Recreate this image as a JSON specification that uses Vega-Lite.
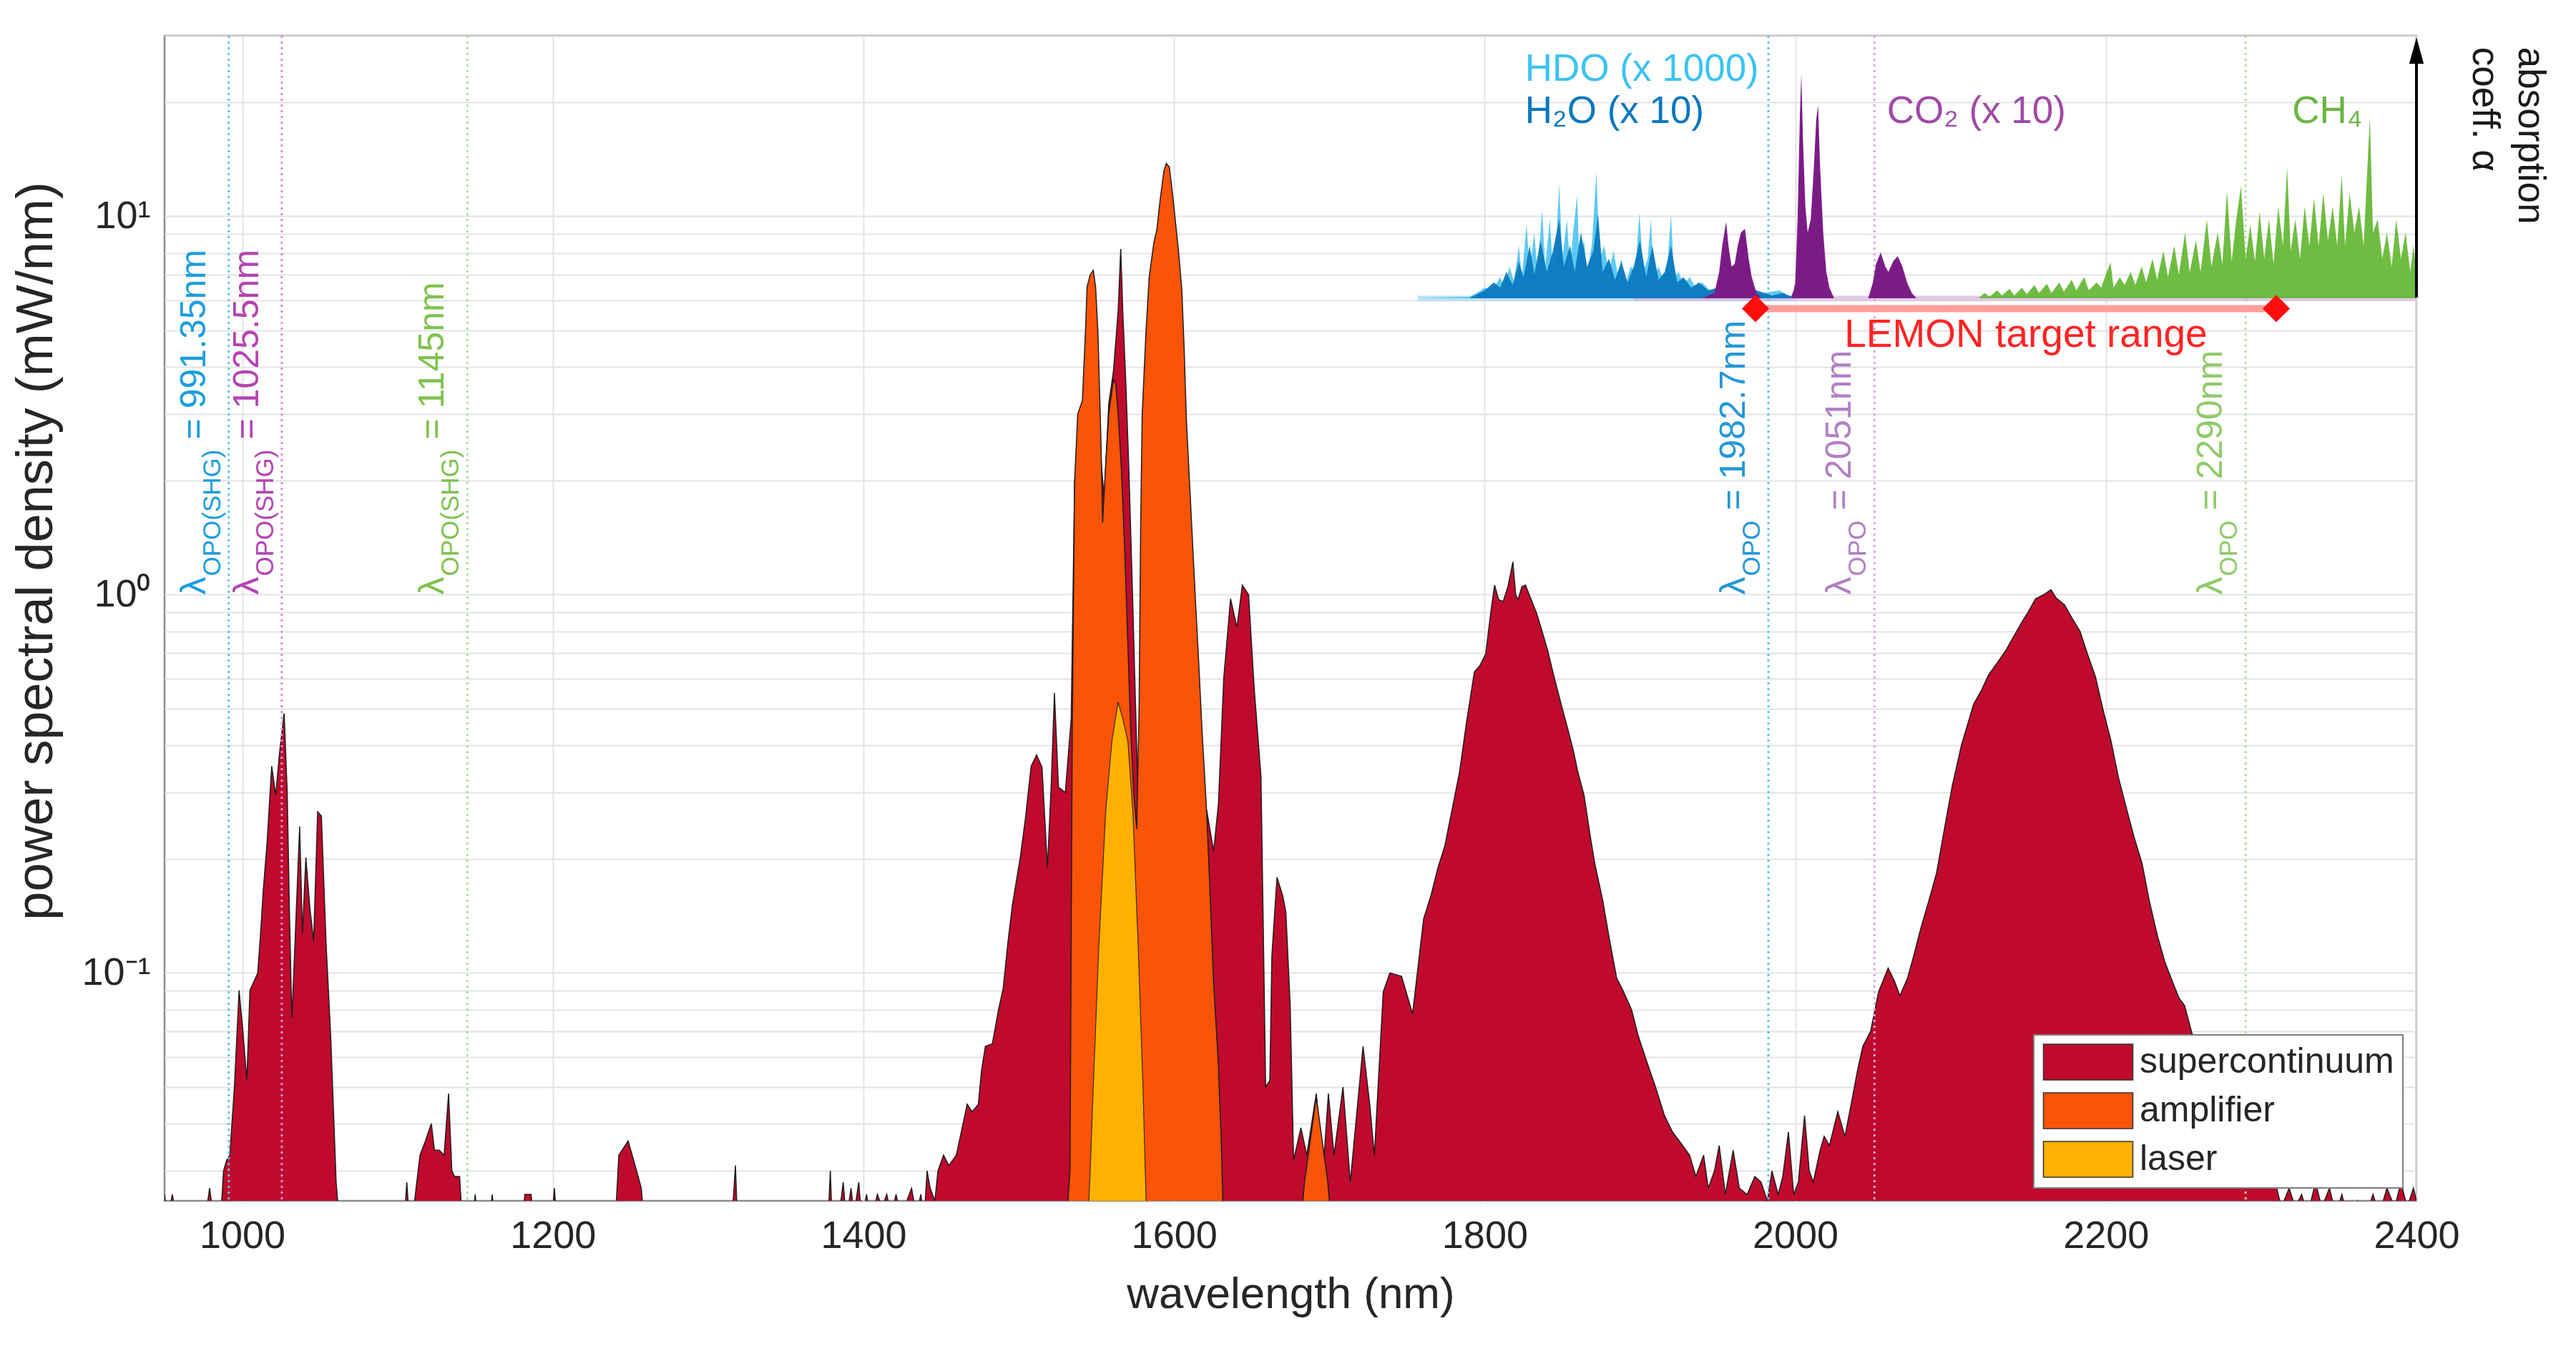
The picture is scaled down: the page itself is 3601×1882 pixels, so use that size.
{
  "$schema": "https://vega.github.io/schema/vega-lite/v6.json",
  "width": 3148,
  "height": 1629,
  "autosize": {"type": "none"},
  "padding": {"left": 230, "top": 50, "right": 223, "bottom": 203},
  "background": "white",
  "config": {
    "font": "Liberation Sans",
    "view": {"stroke": "#8c8c8c", "strokeWidth": 2.5},
    "axis": {"labelFont": "Liberation Sans", "titleFont": "Liberation Sans", "labelColor": "#262626", "titleColor": "#262626", "titleFontWeight": "normal", "domain": false, "ticks": false, "grid": true, "gridColor": "#e3e3e3", "gridWidth": 2},
    "axisX": {"labelFontSize": 54, "titleFontSize": 62, "labelPadding": 22, "titlePadding": 24, "labelFlush": false},
    "axisY": {"labelFontSize": 54, "titleFontSize": 72, "labelPadding": 20, "titlePadding": 26},
    "legend": {"labelFont": "Liberation Sans", "labelFontSize": 50, "labelColor": "#262626", "labelLimit": 1000, "fillColor": "white", "strokeColor": "#7f7f7f", "strokeWidth": 2, "padding": 12, "rowPadding": 12, "symbolOffset": 38, "labelOffset": 46, "symbolStrokeColor": "#333333", "symbolStrokeWidth": 1.5, "symbolOpacity": 1}
  },
  "datasets": {
    "sc": [
      {"wl":950,"p":0.026},{"wl":952,"p":0.022},{"wl":955,"p":0.026},{"wl":958,"p":0.022},{"wl":961,"p":0.025},{"wl":964,"p":0.021},{"wl":970,"p":0.021},{"wl":976,"p":0.022},{"wl":979,"p":0.027},{"wl":982,"p":0.022},{"wl":986,"p":0.022},{"wl":988,"p":0.03},{"wl":990,"p":0.032},{"wl":992,"p":0.033},{"wl":995,"p":0.05},{"wl":998,"p":0.09},{"wl":1000.5,"p":0.07},{"wl":1003,"p":0.052},{"wl":1005,"p":0.09},{"wl":1010,"p":0.1},{"wl":1012,"p":0.13},{"wl":1013.6,"p":0.166},{"wl":1016,"p":0.22},{"wl":1019,"p":0.352},{"wl":1021.6,"p":0.295},{"wl":1024,"p":0.38},{"wl":1027,"p":0.486},{"wl":1029,"p":0.3},{"wl":1030.5,"p":0.14},{"wl":1032,"p":0.076},{"wl":1034,"p":0.12},{"wl":1037,"p":0.244},{"wl":1038.8,"p":0.127},{"wl":1041,"p":0.202},{"wl":1043.5,"p":0.15},{"wl":1046,"p":0.121},{"wl":1048.6,"p":0.267},{"wl":1051,"p":0.26},{"wl":1054,"p":0.12},{"wl":1057,"p":0.068},{"wl":1060.5,"p":0.028},{"wl":1063,"p":0.021},
      {"wl":1075,"p":0.021},{"wl":1080,"p":0.024},{"wl":1083,"p":0.021},{"wl":1104,"p":0.021},{"wl":1106,"p":0.028},{"wl":1108,"p":0.021},{"wl":1111,"p":0.025},{"wl":1114.5,"p":0.033},{"wl":1118,"p":0.036},{"wl":1121.8,"p":0.04},{"wl":1123.8,"p":0.034},{"wl":1127,"p":0.034},{"wl":1130,"p":0.033},{"wl":1132.9,"p":0.048},{"wl":1135,"p":0.03},{"wl":1136.8,"p":0.029},{"wl":1140,"p":0.029},{"wl":1142,"p":0.021},{"wl":1148,"p":0.021},{"wl":1150,"p":0.026},{"wl":1152,"p":0.021},{"wl":1159,"p":0.021},{"wl":1161,"p":0.026},{"wl":1163,"p":0.021},{"wl":1180,"p":0.021},{"wl":1182,"p":0.026},{"wl":1186,"p":0.026},{"wl":1188,"p":0.021},{"wl":1199,"p":0.021},{"wl":1201,"p":0.027},{"wl":1203,"p":0.021},{"wl":1228,"p":0.021},{"wl":1229,"p":0.025},{"wl":1231,"p":0.021},{"wl":1240,"p":0.021},{"wl":1242.5,"p":0.033},{"wl":1248.5,"p":0.036},{"wl":1253,"p":0.031},{"wl":1257,"p":0.027},{"wl":1259,"p":0.021},{"wl":1273,"p":0.021},{"wl":1274,"p":0.025},{"wl":1276,"p":0.021},{"wl":1293,"p":0.021},{"wl":1294,"p":0.025},{"wl":1296,"p":0.021},{"wl":1315,"p":0.021},{"wl":1317.6,"p":0.031},{"wl":1319,"p":0.021},{"wl":1340,"p":0.021},{"wl":1341,"p":0.024},{"wl":1343,"p":0.021},{"wl":1365,"p":0.021},{"wl":1366,"p":0.025},{"wl":1368,"p":0.021},{"wl":1377,"p":0.021},{"wl":1378.7,"p":0.03},{"wl":1380,"p":0.021},{"wl":1385,"p":0.024},{"wl":1387,"p":0.028},{"wl":1389,"p":0.022},{"wl":1392,"p":0.027},{"wl":1394,"p":0.023},{"wl":1397,"p":0.028},{"wl":1399,"p":0.022},{"wl":1402,"p":0.026},{"wl":1405,"p":0.022},{"wl":1409,"p":0.026},{"wl":1412,"p":0.024},{"wl":1415,"p":0.026},{"wl":1418,"p":0.023},{"wl":1421,"p":0.026},{"wl":1425,"p":0.022},{"wl":1428,"p":0.025},{"wl":1431,"p":0.027},{"wl":1434,"p":0.023},{"wl":1437,"p":0.026},{"wl":1439,"p":0.022},{"wl":1441,"p":0.03},{"wl":1443,"p":0.027},{"wl":1446,"p":0.025},{"wl":1448,"p":0.03},{"wl":1451.6,"p":0.033},{"wl":1455,"p":0.031},{"wl":1459.8,"p":0.033},{"wl":1463,"p":0.038},{"wl":1466.8,"p":0.045},{"wl":1470,"p":0.043},{"wl":1474,"p":0.045},{"wl":1476,"p":0.055},{"wl":1478.5,"p":0.064},{"wl":1483,"p":0.065},{"wl":1487,"p":0.08},{"wl":1490,"p":0.091},{"wl":1493,"p":0.12},{"wl":1496,"p":0.152},{"wl":1501,"p":0.202},{"wl":1504.4,"p":0.258},{"wl":1508,"p":0.352},{"wl":1511.5,"p":0.377},{"wl":1515,"p":0.35},{"wl":1518.5,"p":0.19},{"wl":1521,"p":0.32},{"wl":1523,"p":0.55},{"wl":1525.6,"p":0.31},{"wl":1530,"p":0.3},{"wl":1533.8,"p":0.47},{"wl":1536,"p":2.0},{"wl":1540,"p":2.6},{"wl":1545,"p":4.0},{"wl":1550,"p":3.2},{"wl":1555,"p":1.8},{"wl":1558,"p":3.2},{"wl":1561,"p":3.9},{"wl":1564,"p":5.6},{"wl":1565.7,"p":8.2},{"wl":1567,"p":5.6},{"wl":1569,"p":3.6},{"wl":1571,"p":2.1},{"wl":1573,"p":1.1},{"wl":1575,"p":0.55},{"wl":1577,"p":0.28},{"wl":1580,"p":0.2},{"wl":1600,"p":0.2},{"wl":1618,"p":0.2},{"wl":1621,"p":0.27},{"wl":1625.5,"p":0.21},{"wl":1628.6,"p":0.28},{"wl":1632,"p":0.6},{"wl":1636.4,"p":0.975},{"wl":1640.5,"p":0.82},{"wl":1644,"p":1.06},{"wl":1648,"p":1.0},{"wl":1651.6,"p":0.567},{"wl":1656,"p":0.33},{"wl":1659,"p":0.05},{"wl":1661.7,"p":0.052},{"wl":1663,"p":0.111},{"wl":1666.3,"p":0.179},{"wl":1670,"p":0.16},{"wl":1672,"p":0.145},{"wl":1674.8,"p":0.082},{"wl":1677,"p":0.032},{"wl":1681.7,"p":0.039},{"wl":1685.5,"p":0.033},{"wl":1691.6,"p":0.048},{"wl":1696,"p":0.03},{"wl":1699.4,"p":0.048},{"wl":1703,"p":0.033},{"wl":1708.8,"p":0.05},{"wl":1713.5,"p":0.028},{"wl":1721.7,"p":0.064},{"wl":1726,"p":0.045},{"wl":1729,"p":0.033},{"wl":1734.7,"p":0.089},{"wl":1739,"p":0.1},{"wl":1746.5,"p":0.098},{"wl":1753.6,"p":0.078},{"wl":1760.7,"p":0.139},{"wl":1765.4,"p":0.16},{"wl":1770,"p":0.19},{"wl":1774.4,"p":0.217},{"wl":1779,"p":0.27},{"wl":1783.8,"p":0.339},{"wl":1788,"p":0.45},{"wl":1793.4,"p":0.625},{"wl":1797,"p":0.65},{"wl":1800.7,"p":0.697},{"wl":1804,"p":0.9},{"wl":1806.4,"p":1.06},{"wl":1809,"p":0.97},{"wl":1812,"p":0.96},{"wl":1815,"p":1.05},{"wl":1818.2,"p":1.22},{"wl":1820,"p":1.0},{"wl":1821.5,"p":0.97},{"wl":1824,"p":1.05},{"wl":1826.3,"p":1.06},{"wl":1830,"p":0.97},{"wl":1833.4,"p":0.895},{"wl":1837,"p":0.8},{"wl":1840.4,"p":0.717},{"wl":1845,"p":0.6},{"wl":1850,"p":0.5},{"wl":1853,"p":0.45},{"wl":1857,"p":0.389},{"wl":1860,"p":0.34},{"wl":1864,"p":0.295},{"wl":1868,"p":0.23},{"wl":1871,"p":0.194},{"wl":1876,"p":0.156},{"wl":1880,"p":0.125},{"wl":1885,"p":0.097},{"wl":1889,"p":0.09},{"wl":1894.6,"p":0.08},{"wl":1899,"p":0.068},{"wl":1904,"p":0.059},{"wl":1910,"p":0.05},{"wl":1915.8,"p":0.042},{"wl":1921,"p":0.038},{"wl":1927.5,"p":0.035},{"wl":1932,"p":0.033},{"wl":1936,"p":0.029},{"wl":1941,"p":0.033},{"wl":1944,"p":0.027},{"wl":1948,"p":0.03},{"wl":1951,"p":0.035},{"wl":1955,"p":0.026},{"wl":1960,"p":0.034},{"wl":1964,"p":0.027},{"wl":1969,"p":0.026},{"wl":1974,"p":0.029},{"wl":1978,"p":0.028},{"wl":1982,"p":0.025},{"wl":1985,"p":0.03},{"wl":1989,"p":0.026},{"wl":1992,"p":0.029},{"wl":1995.6,"p":0.038},{"wl":1999,"p":0.026},{"wl":2002,"p":0.028},{"wl":2006,"p":0.042},{"wl":2009,"p":0.03},{"wl":2011.6,"p":0.028},{"wl":2016,"p":0.034},{"wl":2018.6,"p":0.037},{"wl":2022,"p":0.035},{"wl":2027.4,"p":0.043},{"wl":2032,"p":0.037},{"wl":2036,"p":0.045},{"wl":2040,"p":0.055},{"wl":2043.5,"p":0.064},{"wl":2048.5,"p":0.07},{"wl":2053.6,"p":0.089},{"wl":2059.8,"p":0.103},{"wl":2064,"p":0.095},{"wl":2067.4,"p":0.087},{"wl":2072.3,"p":0.097},{"wl":2076,"p":0.11},{"wl":2081,"p":0.132},{"wl":2086,"p":0.155},{"wl":2091,"p":0.184},{"wl":2096,"p":0.24},{"wl":2101,"p":0.311},{"wl":2107,"p":0.4},{"wl":2110,"p":0.44},{"wl":2114.8,"p":0.513},{"wl":2120,"p":0.56},{"wl":2124.6,"p":0.615},{"wl":2130,"p":0.66},{"wl":2136,"p":0.717},{"wl":2141,"p":0.78},{"wl":2146,"p":0.847},{"wl":2150,"p":0.9},{"wl":2154.7,"p":0.975},{"wl":2160,"p":1.0},{"wl":2164.7,"p":1.03},{"wl":2168,"p":0.98},{"wl":2173.4,"p":0.94},{"wl":2178,"p":0.87},{"wl":2183.4,"p":0.8},{"wl":2188,"p":0.7},{"wl":2193.3,"p":0.607},{"wl":2198,"p":0.5},{"wl":2203.3,"p":0.411},{"wl":2208,"p":0.33},{"wl":2213.4,"p":0.271},{"wl":2218,"p":0.23},{"wl":2223.4,"p":0.194},{"wl":2228,"p":0.155},{"wl":2233.3,"p":0.125},{"wl":2238,"p":0.107},{"wl":2243.3,"p":0.094},{"wl":2247,"p":0.086},{"wl":2250.7,"p":0.082},{"wl":2256,"p":0.068},{"wl":2262,"p":0.058},{"wl":2268,"p":0.05},{"wl":2275,"p":0.044},{"wl":2282,"p":0.039},{"wl":2290,"p":0.034},{"wl":2298,"p":0.031},{"wl":2305,"p":0.029},{"wl":2310,"p":0.027},{"wl":2313,"p":0.024},{"wl":2318,"p":0.027},{"wl":2322,"p":0.024},{"wl":2326,"p":0.026},{"wl":2330,"p":0.023},{"wl":2335,"p":0.028},{"wl":2339,"p":0.024},{"wl":2344,"p":0.027},{"wl":2348,"p":0.023},{"wl":2352,"p":0.026},{"wl":2356,"p":0.022},{"wl":2362,"p":0.025},{"wl":2366,"p":0.022},{"wl":2372,"p":0.026},{"wl":2376,"p":0.023},{"wl":2381,"p":0.027},{"wl":2386,"p":0.024},{"wl":2390,"p":0.028},{"wl":2394,"p":0.024},{"wl":2398,"p":0.027},{"wl":2400,"p":0.025}
    ],
    "amp": [
      {"wl":1530,"p":0.02},{"wl":1533,"p":0.03},{"wl":1534.5,"p":0.45},{"wl":1536,"p":2.0},{"wl":1538,"p":3.0},{"wl":1541,"p":3.26},{"wl":1543,"p":5.0},{"wl":1544,"p":6.5},{"wl":1546,"p":7.0},{"wl":1548,"p":7.2},{"wl":1549.5,"p":6.5},{"wl":1551,"p":4.96},{"wl":1553,"p":2.5},{"wl":1554,"p":1.55},{"wl":1556,"p":2.2},{"wl":1558,"p":3.0},{"wl":1561,"p":3.7},{"wl":1562.5,"p":3.6},{"wl":1564,"p":3.0},{"wl":1566,"p":2.2},{"wl":1568,"p":1.4},{"wl":1570,"p":0.8},{"wl":1572,"p":0.45},{"wl":1574,"p":0.3},{"wl":1576,"p":0.24},{"wl":1577.5,"p":0.5},{"wl":1578.5,"p":1.5},{"wl":1579.5,"p":3.0},{"wl":1582,"p":5.0},{"wl":1584,"p":6.9},{"wl":1587,"p":8.5},{"wl":1589,"p":9.25},{"wl":1591,"p":11},{"wl":1593.5,"p":13.2},{"wl":1595,"p":13.8},{"wl":1597,"p":13.5},{"wl":1599,"p":11.5},{"wl":1601,"p":9.6},{"wl":1603,"p":8.0},{"wl":1605,"p":6.4},{"wl":1606.5,"p":4.5},{"wl":1608,"p":2.88},{"wl":1610.5,"p":1.8},{"wl":1613.3,"p":1.06},{"wl":1616,"p":0.65},{"wl":1618,"p":0.44},{"wl":1621,"p":0.267},{"wl":1623,"p":0.17},{"wl":1625.5,"p":0.094},{"wl":1628.6,"p":0.057},{"wl":1630.5,"p":0.035},{"wl":1632,"p":0.02},{"wl":1660,"p":0.02},{"wl":1681,"p":0.02},{"wl":1684,"p":0.028},{"wl":1691.6,"p":0.047},{"wl":1699,"p":0.028},{"wl":1702,"p":0.02}
    ],
    "laser": [
      {"wl":1544.6,"p":0.022},{"wl":1546,"p":0.03},{"wl":1548,"p":0.05},{"wl":1551.5,"p":0.116},{"wl":1556,"p":0.267},{"wl":1560,"p":0.41},{"wl":1564,"p":0.52},{"wl":1567,"p":0.47},{"wl":1570.3,"p":0.41},{"wl":1573.5,"p":0.267},{"wl":1577,"p":0.116},{"wl":1580,"p":0.05},{"wl":1582.4,"p":0.022}
    ],
    "vlines": [
      {"wl":991.35,"c":"SHG-H2O","k":"SHG","t":"= 991.35nm"},
      {"wl":1025.5,"c":"SHG-CO2","k":"SHG","t":"= 1025.5nm"},
      {"wl":1145,"c":"SHG-CH4","k":"SHG","t":"= 1145nm"},
      {"wl":1982.7,"c":"OPO-H2O","k":"OPO","t":"= 1982.7nm"},
      {"wl":2051,"c":"OPO-CO2","k":"OPO","t":"= 2051nm"},
      {"wl":2290,"c":"OPO-CH4","k":"OPO","t":"= 2290nm"}
    ],
    "lemon": [{"wl":1974.4,"v":5.7},{"wl":2309.7,"v":5.7}],
    "lemonText": [{"wl":2148.5,"v":4.86,"t":"LEMON target range"}],
    "gasLabels": [
      {"wl":1826,"v":24.4,"t":"HDO (x 1000)","g":"HDO"},
      {"wl":1826,"v":18.9,"t":"H₂O (x 10)","g":"H2O"},
      {"wl":2059,"v":18.9,"t":"CO₂ (x 10)","g":"CO2"},
      {"wl":2320,"v":18.9,"t":"CH₄","g":"CH4"}
    ],
    "absLabel": [{"wl":2466,"v":28,"t":"absorption\ncoeff. α"}],
    "arrow": [{"wl":2400,"v0":6.1,"v1":27}],
    "arrowHead": [{"wl":2400,"v":27.4}],
    "baselines": [{"wl":1757,"wl2":2000,"g":"H2O"},{"wl":1896,"wl2":2400,"g":"CO2"}],
    "abs": [
      {"g":"HDO","wl":1757,"a":0},{"g":"HDO","wl":1790,"a":0.005},{"g":"HDO","wl":1795,"a":0.02},{"g":"HDO","wl":1800,"a":0.04},{"g":"HDO","wl":1805,"a":0.03},{"g":"HDO","wl":1810,"a":0.08},{"g":"HDO","wl":1813,"a":0.04},{"g":"HDO","wl":1816,"a":0.12},{"g":"HDO","wl":1819,"a":0.06},{"g":"HDO","wl":1822,"a":0.2},{"g":"HDO","wl":1824,"a":0.08},{"g":"HDO","wl":1827,"a":0.283},{"g":"HDO","wl":1829,"a":0.1},{"g":"HDO","wl":1832,"a":0.25},{"g":"HDO","wl":1834,"a":0.1},{"g":"HDO","wl":1837,"a":0.338},{"g":"HDO","wl":1839,"a":0.12},{"g":"HDO","wl":1842,"a":0.3},{"g":"HDO","wl":1844,"a":0.1},{"g":"HDO","wl":1846,"a":0.2},{"g":"HDO","wl":1848,"a":0.437},{"g":"HDO","wl":1850,"a":0.15},{"g":"HDO","wl":1853,"a":0.3},{"g":"HDO","wl":1855,"a":0.12},{"g":"HDO","wl":1857,"a":0.25},{"g":"HDO","wl":1859.5,"a":0.392},{"g":"HDO","wl":1861,"a":0.15},{"g":"HDO","wl":1864,"a":0.22},{"g":"HDO","wl":1866,"a":0.1},{"g":"HDO","wl":1869,"a":0.2},{"g":"HDO","wl":1872,"a":0.482},{"g":"HDO","wl":1874,"a":0.15},{"g":"HDO","wl":1877,"a":0.2},{"g":"HDO","wl":1880,"a":0.1},{"g":"HDO","wl":1883,"a":0.18},{"g":"HDO","wl":1886,"a":0.08},{"g":"HDO","wl":1888,"a":0.15},{"g":"HDO","wl":1891,"a":0.06},{"g":"HDO","wl":1894,"a":0.12},{"g":"HDO","wl":1897,"a":0.1},{"g":"HDO","wl":1899.7,"a":0.328},{"g":"HDO","wl":1902,"a":0.1},{"g":"HDO","wl":1905,"a":0.15},{"g":"HDO","wl":1907,"a":0.3},{"g":"HDO","wl":1909,"a":0.08},{"g":"HDO","wl":1912,"a":0.12},{"g":"HDO","wl":1915,"a":0.07},{"g":"HDO","wl":1918,"a":0.15},{"g":"HDO","wl":1920,"a":0.319},{"g":"HDO","wl":1922,"a":0.08},{"g":"HDO","wl":1925,"a":0.1},{"g":"HDO","wl":1928,"a":0.05},{"g":"HDO","wl":1932,"a":0.08},{"g":"HDO","wl":1936,"a":0.04},{"g":"HDO","wl":1940,"a":0.06},{"g":"HDO","wl":1945,"a":0.03},{"g":"HDO","wl":1950,"a":0.04},{"g":"HDO","wl":1955,"a":0.02},{"g":"HDO","wl":1960,"a":0.03},{"g":"HDO","wl":1970,"a":0.01},{"g":"HDO","wl":1980,"a":0.02},{"g":"HDO","wl":1990,"a":0.03},{"g":"HDO","wl":1995,"a":0.01},{"g":"HDO","wl":2000,"a":0},
      {"g":"H2O","wl":1790,"a":0},{"g":"H2O","wl":1800,"a":0.03},{"g":"H2O","wl":1806,"a":0.06},{"g":"H2O","wl":1810,"a":0.04},{"g":"H2O","wl":1814,"a":0.1},{"g":"H2O","wl":1818,"a":0.05},{"g":"H2O","wl":1822,"a":0.14},{"g":"H2O","wl":1825,"a":0.08},{"g":"H2O","wl":1829,"a":0.2},{"g":"H2O","wl":1832,"a":0.09},{"g":"H2O","wl":1836,"a":0.22},{"g":"H2O","wl":1840,"a":0.1},{"g":"H2O","wl":1844,"a":0.18},{"g":"H2O","wl":1848,"a":0.3},{"g":"H2O","wl":1851,"a":0.12},{"g":"H2O","wl":1855,"a":0.2},{"g":"H2O","wl":1858,"a":0.1},{"g":"H2O","wl":1862,"a":0.25},{"g":"H2O","wl":1866,"a":0.12},{"g":"H2O","wl":1870,"a":0.18},{"g":"H2O","wl":1873,"a":0.32},{"g":"H2O","wl":1876,"a":0.1},{"g":"H2O","wl":1880,"a":0.15},{"g":"H2O","wl":1884,"a":0.07},{"g":"H2O","wl":1888,"a":0.14},{"g":"H2O","wl":1892,"a":0.06},{"g":"H2O","wl":1896,"a":0.12},{"g":"H2O","wl":1900,"a":0.22},{"g":"H2O","wl":1904,"a":0.08},{"g":"H2O","wl":1908,"a":0.2},{"g":"H2O","wl":1912,"a":0.07},{"g":"H2O","wl":1916,"a":0.1},{"g":"H2O","wl":1920,"a":0.2},{"g":"H2O","wl":1924,"a":0.06},{"g":"H2O","wl":1928,"a":0.08},{"g":"H2O","wl":1933,"a":0.04},{"g":"H2O","wl":1938,"a":0.06},{"g":"H2O","wl":1944,"a":0.03},{"g":"H2O","wl":1950,"a":0.04},{"g":"H2O","wl":1960,"a":0.02},{"g":"H2O","wl":1975,"a":0.03},{"g":"H2O","wl":1985,"a":0.01},{"g":"H2O","wl":1992,"a":0.02},{"g":"H2O","wl":2000,"a":0},
      {"g":"CO2","wl":1940,"a":0},{"g":"CO2","wl":1948,"a":0.02},{"g":"CO2","wl":1951,"a":0.1},{"g":"CO2","wl":1953,"a":0.2},{"g":"CO2","wl":1955.5,"a":0.291},{"g":"CO2","wl":1957,"a":0.2},{"g":"CO2","wl":1959,"a":0.12},{"g":"CO2","wl":1961,"a":0.13},{"g":"CO2","wl":1963,"a":0.2},{"g":"CO2","wl":1965,"a":0.25},{"g":"CO2","wl":1967.6,"a":0.264},{"g":"CO2","wl":1970,"a":0.15},{"g":"CO2","wl":1972,"a":0.08},{"g":"CO2","wl":1975,"a":0.02},{"g":"CO2","wl":1978,"a":0},{"g":"CO2","wl":1997,"a":0},{"g":"CO2","wl":1999,"a":0.03},{"g":"CO2","wl":2000,"a":0.06},{"g":"CO2","wl":2001.5,"a":0.3},{"g":"CO2","wl":2003,"a":0.7},{"g":"CO2","wl":2003.9,"a":0.855},{"g":"CO2","wl":2005,"a":0.6},{"g":"CO2","wl":2006.5,"a":0.35},{"g":"CO2","wl":2008,"a":0.25},{"g":"CO2","wl":2010,"a":0.3},{"g":"CO2","wl":2012,"a":0.5},{"g":"CO2","wl":2013.5,"a":0.68},{"g":"CO2","wl":2014.7,"a":0.736},{"g":"CO2","wl":2016,"a":0.5},{"g":"CO2","wl":2018,"a":0.25},{"g":"CO2","wl":2020,"a":0.1},{"g":"CO2","wl":2022,"a":0.04},{"g":"CO2","wl":2025,"a":0},{"g":"CO2","wl":2047,"a":0},{"g":"CO2","wl":2050,"a":0.06},{"g":"CO2","wl":2052,"a":0.13},{"g":"CO2","wl":2055,"a":0.174},{"g":"CO2","wl":2058,"a":0.12},{"g":"CO2","wl":2060,"a":0.1},{"g":"CO2","wl":2063,"a":0.14},{"g":"CO2","wl":2066,"a":0.16},{"g":"CO2","wl":2069,"a":0.12},{"g":"CO2","wl":2072,"a":0.06},{"g":"CO2","wl":2075,"a":0.02},{"g":"CO2","wl":2078,"a":0},
      {"g":"CH4","wl":2118,"a":0},{"g":"CH4","wl":2122,"a":0.02},{"g":"CH4","wl":2125,"a":0.005},{"g":"CH4","wl":2130,"a":0.03},{"g":"CH4","wl":2133,"a":0.01},{"g":"CH4","wl":2138,"a":0.035},{"g":"CH4","wl":2141,"a":0.01},{"g":"CH4","wl":2146,"a":0.04},{"g":"CH4","wl":2149,"a":0.015},{"g":"CH4","wl":2154,"a":0.05},{"g":"CH4","wl":2157,"a":0.02},{"g":"CH4","wl":2162,"a":0.055},{"g":"CH4","wl":2165,"a":0.02},{"g":"CH4","wl":2170,"a":0.06},{"g":"CH4","wl":2173,"a":0.025},{"g":"CH4","wl":2178,"a":0.07},{"g":"CH4","wl":2181,"a":0.03},{"g":"CH4","wl":2186,"a":0.08},{"g":"CH4","wl":2189,"a":0.03},{"g":"CH4","wl":2194,"a":0.06},{"g":"CH4","wl":2197,"a":0.04},{"g":"CH4","wl":2200,"a":0.09},{"g":"CH4","wl":2203,"a":0.137},{"g":"CH4","wl":2205,"a":0.04},{"g":"CH4","wl":2209,"a":0.08},{"g":"CH4","wl":2212,"a":0.05},{"g":"CH4","wl":2216,"a":0.1},{"g":"CH4","wl":2219,"a":0.05},{"g":"CH4","wl":2223,"a":0.12},{"g":"CH4","wl":2226,"a":0.06},{"g":"CH4","wl":2230,"a":0.15},{"g":"CH4","wl":2233,"a":0.07},{"g":"CH4","wl":2237,"a":0.18},{"g":"CH4","wl":2240,"a":0.08},{"g":"CH4","wl":2244,"a":0.2},{"g":"CH4","wl":2247,"a":0.09},{"g":"CH4","wl":2251,"a":0.25},{"g":"CH4","wl":2254,"a":0.1},{"g":"CH4","wl":2258,"a":0.22},{"g":"CH4","wl":2261,"a":0.1},{"g":"CH4","wl":2265,"a":0.3},{"g":"CH4","wl":2268,"a":0.12},{"g":"CH4","wl":2272,"a":0.25},{"g":"CH4","wl":2275,"a":0.13},{"g":"CH4","wl":2278,"a":0.41},{"g":"CH4","wl":2281,"a":0.14},{"g":"CH4","wl":2284,"a":0.3},{"g":"CH4","wl":2287,"a":0.427},{"g":"CH4","wl":2290,"a":0.15},{"g":"CH4","wl":2293,"a":0.28},{"g":"CH4","wl":2296,"a":0.14},{"g":"CH4","wl":2299,"a":0.33},{"g":"CH4","wl":2302,"a":0.15},{"g":"CH4","wl":2305,"a":0.3},{"g":"CH4","wl":2308,"a":0.13},{"g":"CH4","wl":2311,"a":0.35},{"g":"CH4","wl":2314,"a":0.2},{"g":"CH4","wl":2316.7,"a":0.5},{"g":"CH4","wl":2319,"a":0.18},{"g":"CH4","wl":2322,"a":0.3},{"g":"CH4","wl":2325,"a":0.15},{"g":"CH4","wl":2328,"a":0.35},{"g":"CH4","wl":2331,"a":0.2},{"g":"CH4","wl":2334,"a":0.38},{"g":"CH4","wl":2337,"a":0.2},{"g":"CH4","wl":2340,"a":0.4},{"g":"CH4","wl":2343,"a":0.22},{"g":"CH4","wl":2346,"a":0.35},{"g":"CH4","wl":2349,"a":0.2},{"g":"CH4","wl":2351.8,"a":0.47},{"g":"CH4","wl":2354,"a":0.2},{"g":"CH4","wl":2357,"a":0.4},{"g":"CH4","wl":2360,"a":0.25},{"g":"CH4","wl":2363,"a":0.35},{"g":"CH4","wl":2366,"a":0.2},{"g":"CH4","wl":2368,"a":0.45},{"g":"CH4","wl":2370,"a":0.69},{"g":"CH4","wl":2372,"a":0.25},{"g":"CH4","wl":2375,"a":0.3},{"g":"CH4","wl":2378,"a":0.15},{"g":"CH4","wl":2381,"a":0.25},{"g":"CH4","wl":2384,"a":0.12},{"g":"CH4","wl":2387,"a":0.3},{"g":"CH4","wl":2390,"a":0.15},{"g":"CH4","wl":2393,"a":0.25},{"g":"CH4","wl":2396,"a":0.1},{"g":"CH4","wl":2398,"a":0.2},{"g":"CH4","wl":2400,"a":0.1}
    ]
  },
  "resolve": {"scale": {"y": "independent", "color": "independent"}},
  "layer": [
    {
      "layer": [
        {
          "data": {"name": "sc"},
          "mark": {"type": "area", "clip": true, "stroke": "#1e1e1e", "strokeWidth": 1.5, "fillOpacity": 1},
          "encoding": {
            "x": {"field": "wl", "type": "quantitative", "title": "wavelength (nm)", "scale": {"domain": [950, 2400], "nice": false, "zero": false}, "axis": {"values": [1000, 1200, 1400, 1600, 1800, 2000, 2200, 2400], "format": "d"}},
            "y": {"field": "p", "type": "quantitative", "title": "power spectral density (mW/nm)", "scale": {"type": "log", "domain": [0.025, 30], "nice": false}, "axis": {"titleY": 720, "values": [0.03, 0.04, 0.05, 0.06, 0.07, 0.08, 0.09, 0.1, 0.2, 0.3, 0.4, 0.5, 0.6, 0.7, 0.8, 0.9, 1, 2, 3, 4, 5, 6, 7, 8, 9, 10, 20, 30], "labelOverlap": false, "labelExpr": "datum.value == 10 ? '10¹' : datum.value == 1 ? '10⁰' : datum.value == 0.1 ? '10⁻¹' : ''"}},
            "y2": {"datum": 0.02},
            "color": {"datum": "supercontinuum", "type": "nominal", "scale": {"domain": ["supercontinuum", "amplifier", "laser"], "range": ["#bf0a2d", "#fa5409", "#fdb100"]}, "legend": {"title": null, "orient": "none", "legendX": 2613, "legendY": 1397, "symbolType": "M-2.5,-1H2.5V1H-2.5Z", "symbolSize": 2500, "labelLimit": 1000}}
          }
        },
        {
          "data": {"name": "amp"},
          "mark": {"type": "area", "clip": true, "stroke": "#1e1e1e", "strokeWidth": 1.5, "fillOpacity": 1},
          "encoding": {
            "x": {"field": "wl", "type": "quantitative", "title": "wavelength (nm)"},
            "y": {"field": "p", "type": "quantitative", "title": "power spectral density (mW/nm)"},
            "y2": {"datum": 0.02},
            "color": {"datum": "amplifier", "type": "nominal"}
          }
        },
        {
          "data": {"name": "laser"},
          "mark": {"type": "area", "clip": true, "stroke": "#3a2a00", "strokeWidth": 1.2, "fillOpacity": 1},
          "encoding": {
            "x": {"field": "wl", "type": "quantitative", "title": "wavelength (nm)"},
            "y": {"field": "p", "type": "quantitative", "title": "power spectral density (mW/nm)"},
            "y2": {"datum": 0.02},
            "color": {"datum": "laser", "type": "nominal"}
          }
        }
      ]
    },
    {
      "data": {"name": "vlines"},
      "mark": {"type": "rule", "strokeDash": [3, 5], "strokeWidth": 3},
      "encoding": {
        "x": {"field": "wl", "type": "quantitative", "title": "wavelength (nm)", "scale": {"domain": [950, 2400], "nice": false, "zero": false}},
        "color": {"field": "c", "type": "nominal", "legend": null, "scale": {"domain": ["SHG-H2O", "SHG-CO2", "SHG-CH4", "OPO-H2O", "OPO-CO2", "OPO-CH4"], "range": ["#62c2ec", "#d68fd6", "#b7dc9c", "#62c2ec", "#d8a8de", "#b7dc9c"]}}
      }
    },
    {
      "data": {"name": "vlines"},
      "mark": {"type": "text", "angle": 270, "align": "left", "baseline": "alphabetic", "fontSize": 50, "dx": 0, "dy": -33},
      "encoding": {
        "x": {"field": "wl", "type": "quantitative", "title": "wavelength (nm)"},
        "y": {"datum": 1, "type": "quantitative", "scale": {"type": "log", "domain": [0.025, 30], "nice": false}, "axis": null},
        "text": {"value": "λ"},
        "color": {"field": "c", "type": "nominal", "legend": null, "scale": {"domain": ["SHG-H2O", "SHG-CO2", "SHG-CH4", "OPO-H2O", "OPO-CO2", "OPO-CH4"], "range": ["#1c9ede", "#b543b2", "#7fc24e", "#2398d6", "#b27fc6", "#8fcb68"]}}
      }
    },
    {
      "data": {"name": "vlines"},
      "transform": [{"filter": "datum.k == 'SHG'"}],
      "mark": {"type": "text", "angle": 270, "align": "left", "baseline": "alphabetic", "fontSize": 35, "dx": 26, "dy": -12},
      "encoding": {
        "x": {"field": "wl", "type": "quantitative", "title": "wavelength (nm)"},
        "y": {"datum": 1, "type": "quantitative", "scale": {"type": "log", "domain": [0.025, 30], "nice": false}, "axis": null},
        "text": {"value": "OPO(SHG)"},
        "color": {"field": "c", "type": "nominal", "legend": null, "scale": {"domain": ["SHG-H2O", "SHG-CO2", "SHG-CH4", "OPO-H2O", "OPO-CO2", "OPO-CH4"], "range": ["#1c9ede", "#b543b2", "#7fc24e", "#2398d6", "#b27fc6", "#8fcb68"]}}
      }
    },
    {
      "data": {"name": "vlines"},
      "transform": [{"filter": "datum.k == 'OPO'"}],
      "mark": {"type": "text", "angle": 270, "align": "left", "baseline": "alphabetic", "fontSize": 35, "dx": 26, "dy": -12},
      "encoding": {
        "x": {"field": "wl", "type": "quantitative", "title": "wavelength (nm)"},
        "y": {"datum": 1, "type": "quantitative", "scale": {"type": "log", "domain": [0.025, 30], "nice": false}, "axis": null},
        "text": {"value": "OPO"},
        "color": {"field": "c", "type": "nominal", "legend": null, "scale": {"domain": ["SHG-H2O", "SHG-CO2", "SHG-CH4", "OPO-H2O", "OPO-CO2", "OPO-CH4"], "range": ["#1c9ede", "#b543b2", "#7fc24e", "#2398d6", "#b27fc6", "#8fcb68"]}}
      }
    },
    {
      "data": {"name": "vlines"},
      "transform": [{"filter": "datum.k == 'SHG'"}],
      "mark": {"type": "text", "angle": 270, "align": "left", "baseline": "alphabetic", "fontSize": 50, "dx": 217, "dy": -33},
      "encoding": {
        "x": {"field": "wl", "type": "quantitative", "title": "wavelength (nm)"},
        "y": {"datum": 1, "type": "quantitative", "scale": {"type": "log", "domain": [0.025, 30], "nice": false}, "axis": null},
        "text": {"field": "t", "type": "nominal"},
        "color": {"field": "c", "type": "nominal", "legend": null, "scale": {"domain": ["SHG-H2O", "SHG-CO2", "SHG-CH4", "OPO-H2O", "OPO-CO2", "OPO-CH4"], "range": ["#1c9ede", "#b543b2", "#7fc24e", "#2398d6", "#b27fc6", "#8fcb68"]}}
      }
    },
    {
      "data": {"name": "vlines"},
      "transform": [{"filter": "datum.k == 'OPO'"}],
      "mark": {"type": "text", "angle": 270, "align": "left", "baseline": "alphabetic", "fontSize": 50, "dx": 118, "dy": -33},
      "encoding": {
        "x": {"field": "wl", "type": "quantitative", "title": "wavelength (nm)"},
        "y": {"datum": 1, "type": "quantitative", "scale": {"type": "log", "domain": [0.025, 30], "nice": false}, "axis": null},
        "text": {"field": "t", "type": "nominal"},
        "color": {"field": "c", "type": "nominal", "legend": null, "scale": {"domain": ["SHG-H2O", "SHG-CO2", "SHG-CH4", "OPO-H2O", "OPO-CO2", "OPO-CH4"], "range": ["#1c9ede", "#b543b2", "#7fc24e", "#2398d6", "#b27fc6", "#8fcb68"]}}
      }
    },
    {
      "layer": [
        {
          "data": {"name": "baselines"},
          "mark": {"type": "rule", "strokeWidth": 7, "opacity": 0.6},
          "encoding": {
            "x": {"field": "wl", "type": "quantitative", "title": "wavelength (nm)"},
            "x2": {"field": "wl2"},
            "y": {"datum": 0, "type": "quantitative", "scale": {"domain": [-3.44, 1], "nice": false, "zero": false}, "axis": null},
            "color": {"field": "g", "type": "nominal", "legend": null, "scale": {"domain": ["H2O", "CO2"], "range": ["#8fd3f0", "#d1a6d9"]}}
          }
        },
        {
          "data": {"name": "abs"},
          "transform": [{"filter": "datum.g == 'HDO'"}],
          "mark": {"type": "area", "color": "#4cc4f0", "fillOpacity": 0.9},
          "encoding": {
            "x": {"field": "wl", "type": "quantitative", "title": "wavelength (nm)"},
            "y": {"field": "a", "type": "quantitative", "axis": null},
            "y2": {"datum": 0}
          }
        },
        {
          "data": {"name": "abs"},
          "transform": [{"filter": "datum.g == 'H2O'"}],
          "mark": {"type": "area", "color": "#0a78be", "fillOpacity": 0.95},
          "encoding": {
            "x": {"field": "wl", "type": "quantitative", "title": "wavelength (nm)"},
            "y": {"field": "a", "type": "quantitative", "axis": null},
            "y2": {"datum": 0}
          }
        },
        {
          "data": {"name": "abs"},
          "transform": [{"filter": "datum.g == 'CO2'"}],
          "mark": {"type": "area", "color": "#7b1c86"},
          "encoding": {
            "x": {"field": "wl", "type": "quantitative", "title": "wavelength (nm)"},
            "y": {"field": "a", "type": "quantitative", "axis": null},
            "y2": {"datum": 0}
          }
        },
        {
          "data": {"name": "abs"},
          "transform": [{"filter": "datum.g == 'CH4'"}],
          "mark": {"type": "area", "color": "#5fb52e", "fillOpacity": 0.9},
          "encoding": {
            "x": {"field": "wl", "type": "quantitative", "title": "wavelength (nm)"},
            "y": {"field": "a", "type": "quantitative", "axis": null},
            "y2": {"datum": 0}
          }
        }
      ]
    },
    {
      "data": {"name": "lemon"},
      "mark": {"type": "line", "color": "#ff9d9d", "strokeWidth": 10},
      "encoding": {
        "x": {"field": "wl", "type": "quantitative", "title": "wavelength (nm)"},
        "y": {"field": "v", "type": "quantitative", "scale": {"type": "log", "domain": [0.025, 30], "nice": false}, "axis": null}
      }
    },
    {
      "data": {"name": "lemon"},
      "mark": {"type": "point", "shape": "diamond", "filled": true, "color": "#ff0d0d", "size": 1450, "opacity": 1},
      "encoding": {
        "x": {"field": "wl", "type": "quantitative", "title": "wavelength (nm)"},
        "y": {"field": "v", "type": "quantitative", "scale": {"type": "log", "domain": [0.025, 30], "nice": false}, "axis": null}
      }
    },
    {
      "data": {"name": "lemonText"},
      "mark": {"type": "text", "align": "center", "baseline": "middle", "fontSize": 55, "color": "#ff2424"},
      "encoding": {
        "x": {"field": "wl", "type": "quantitative", "title": "wavelength (nm)"},
        "y": {"field": "v", "type": "quantitative", "scale": {"type": "log", "domain": [0.025, 30], "nice": false}, "axis": null},
        "text": {"field": "t", "type": "nominal"}
      }
    },
    {
      "data": {"name": "gasLabels"},
      "mark": {"type": "text", "align": "left", "baseline": "middle", "fontSize": 53},
      "encoding": {
        "x": {"field": "wl", "type": "quantitative", "title": "wavelength (nm)"},
        "y": {"field": "v", "type": "quantitative", "scale": {"type": "log", "domain": [0.025, 30], "nice": false}, "axis": null},
        "text": {"field": "t", "type": "nominal"},
        "color": {"field": "g", "type": "nominal", "legend": null, "scale": {"domain": ["HDO", "H2O", "CO2", "CH4"], "range": ["#3cc3f2", "#0a78be", "#a04aa8", "#6cb442"]}}
      }
    },
    {
      "data": {"name": "absLabel"},
      "mark": {"type": "text", "angle": 90, "align": "left", "baseline": "alphabetic", "fontSize": 53, "lineBreak": "\n", "lineHeight": 64, "color": "#1a1a1a"},
      "encoding": {
        "x": {"field": "wl", "type": "quantitative", "title": "wavelength (nm)"},
        "y": {"field": "v", "type": "quantitative", "scale": {"type": "log", "domain": [0.025, 30], "nice": false}, "axis": null},
        "text": {"field": "t", "type": "nominal"}
      }
    },
    {
      "data": {"name": "arrow"},
      "mark": {"type": "rule", "color": "black", "strokeWidth": 4},
      "encoding": {
        "x": {"field": "wl", "type": "quantitative", "title": "wavelength (nm)"},
        "y": {"field": "v0", "type": "quantitative", "scale": {"type": "log", "domain": [0.025, 30], "nice": false}, "axis": null},
        "y2": {"field": "v1"}
      }
    },
    {
      "data": {"name": "arrowHead"},
      "mark": {"type": "point", "shape": "M0,-1L0.55,1L-0.55,1Z", "filled": true, "color": "black", "size": 1369, "opacity": 1},
      "encoding": {
        "x": {"field": "wl", "type": "quantitative", "title": "wavelength (nm)"},
        "y": {"field": "v", "type": "quantitative", "scale": {"type": "log", "domain": [0.025, 30], "nice": false}, "axis": null}
      }
    }
  ]
}
